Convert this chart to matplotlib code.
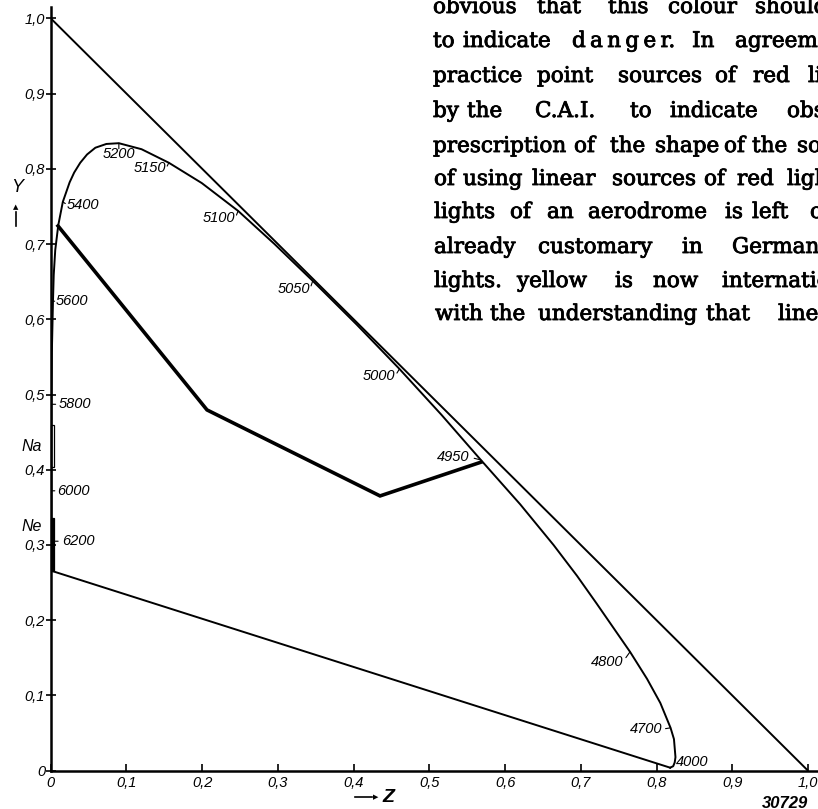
import matplotlib.pyplot as plt
import matplotlib.patheffects as pe
from matplotlib.patches import Rectangle

# Spectrum locus, wavelength in Angstrom with (Z, Y)
locus_wl = [4000, 4200, 4400, 4500, 4600, 4650, 4700, 4750, 4775, 4800, 4825,
            4850, 4875, 4900, 4925, 4950, 4975, 5000, 5025, 5050, 5075, 5100,
            5125, 5150, 5175, 5200, 5225, 5250, 5275, 5300, 5325, 5350, 5400,
            5450, 5500, 5550, 5600, 5700, 5800, 5900, 6000, 6100, 6200, 6400,
            6600, 7000]
locus_z = [0.818, 0.822, 0.824, 0.825, 0.824, 0.823, 0.8185, 0.805, 0.7875, 0.765,
           0.743, 0.721, 0.695, 0.664, 0.620, 0.568, 0.516, 0.4605, 0.404, 0.346,
           0.2955, 0.2475, 0.1995, 0.156, 0.120, 0.090, 0.0735, 0.059, 0.048, 0.039,
           0.031, 0.025, 0.016, 0.010, 0.006, 0.004, 0.003, 0.0015, 0.001, 0.001,
           0.001, 0.001, 0.001, 0.001, 0.001, 0.001]
locus_y = [0.004, 0.006, 0.011, 0.018, 0.030, 0.042, 0.057, 0.090, 0.122, 0.158,
           0.190, 0.222, 0.259, 0.300, 0.354, 0.413, 0.473, 0.534, 0.593, 0.651,
           0.700, 0.744, 0.781, 0.808, 0.826, 0.834, 0.833, 0.828, 0.819, 0.808,
           0.795, 0.782, 0.756, 0.725, 0.692, 0.659, 0.624, 0.555, 0.487, 0.424,
           0.372, 0.334, 0.305, 0.281, 0.270, 0.266]

# labelled wavelengths: text offset (points), alignment
labelled = {
    4000: ((4, 4), 'left'),
    4700: ((-6, -1), 'right'),
    4800: ((-5, -7), 'right'),
    4950: ((-8, 2), 'right'),
    5000: ((-3, -5), 'right'),
    5050: ((-2, -6), 'right'),
    5100: ((-2, -5), 'right'),
    5150: ((-2, -4), 'right'),
    5200: ((0, -8), 'center'),
    5400: ((3, -2), 'left'),
    5600: ((2, 0), 'left'),
    5800: ((5, 0), 'left'),
    6000: ((4, 0), 'left'),
    6200: ((8, 0), 'left'),
}

# diagonal Y + Z = 1
diag_z = [0.0, 1.0]
diag_y = [1.0, 0.0]

# heavy boundary line
bound_z = [0.0097, 0.2064, 0.4349, 0.568]
bound_y = [0.724, 0.4795, 0.3652, 0.410]

# sodium and neon marks on the Y axis
na_range = (0.403, 0.460)
ne_range = (0.266, 0.336)

xticks = [0.0, 0.1, 0.2, 0.3, 0.4, 0.5, 0.6, 0.7, 0.8, 0.9, 1.0]
xticklabels = ['0', '0,1', '0,2', '0,3', '0,4', '0,5', '0,6', '0,7', '0,8', '0,9', '1,0']
yticks = xticks
yticklabels = xticklabels

# page text visible at top right (word, x pixel)
page_lines = [
    [('obvious', 433), ('that', 537), ('this', 608), ('colour', 668), ('should', 755)],
    [('to', 433), ('indicate', 463), ('d\u2009a\u2009n\u2009g\u2009e\u2009r.', 572),
     ('In', 692), ('agreement', 735)],
    [('practice', 433), ('point', 537), ('sources', 618), ('of', 715), ('red', 753),
     ('light', 808)],
    [('by', 433), ('the', 467), ('C.A.I.', 535), ('to', 630), ('indicate', 670),
     ('obstacles', 787)],
    [('prescription', 433), ('of', 574), ('the', 610), ('shape', 655), ('of', 724),
     ('the', 752), ('sources', 797)],
    [('of', 434), ('using', 463), ('linear', 532), ('sources', 612), ('of', 704),
     ('red', 737), ('light', 787)],
    [('lights', 434), ('of', 510), ('an', 547), ('aerodrome', 588), ('is', 725),
     ('left', 752), ('open', 810)],
    [('already', 434), ('customary', 538), ('in', 682), ('Germany', 732)],
    [('lights.', 434), ('yellow', 517), ('is', 615), ('now', 653),
     ('internationally', 722)],
    [('with', 435), ('the', 490), ('understanding', 538), ('that', 706), ('linear', 778)],
]
page_baselines = [13, 47, 82, 117, 152, 185, 218, 253, 287, 320]

W, H = 818, 809
x0, x1 = 50.7, 808.0   # pixel position of Z = 0 and Z = 1
y0, y1 = 770.7, 18.3   # pixel position of Y = 0 and Y = 1

fig = plt.figure(figsize=(W / 100, H / 100), dpi=100)
ax = fig.add_axes([x0 / W, (H - y0) / H, (x1 - x0) * 1.04 / W, (y0 - y1) * 1.015 / H])
ax.set_xlim(0, 1.04)
ax.set_ylim(0, 1.015)

lab_font = dict(family='Liberation Sans', style='italic', size=10.5)

# curves
ax.plot(diag_z, diag_y, color='black', lw=1.4, solid_capstyle='butt')
ax.plot(locus_z, locus_y, color='black', lw=1.4, solid_joinstyle='round')
ax.plot([0.0, locus_z[0]], [locus_y[-1], locus_y[0]], color='black', lw=1.4)
ax.plot(bound_z, bound_y, color='black', lw=2.6, solid_joinstyle='miter')

# Na / Ne bars
ax.add_patch(Rectangle((0, na_range[0]), 0.0045, na_range[1] - na_range[0],
                       fill=False, edgecolor='black', lw=0.9, clip_on=False))
ax.add_patch(Rectangle((0, ne_range[0]), 0.0045, ne_range[1] - ne_range[0],
                       facecolor='black', edgecolor='black', lw=0.9, clip_on=False))
ax.annotate('Na', xy=(0, sum(na_range) / 2), xytext=(-14, 0), textcoords='offset points',
            ha='center', va='center', fontsize=11.5, family='Liberation Sans', style='italic')
ax.annotate('Ne', xy=(0, ne_range[1]), xytext=(-14, -6), textcoords='offset points',
            ha='center', va='center', fontsize=11.5, family='Liberation Sans', style='italic')

# wavelength labels with small tick marks
for wl, (off, ha) in labelled.items():
    i = locus_wl.index(wl)
    pz, py = locus_z[i], locus_y[i]
    ax.annotate(str(wl), xy=(pz, py), xytext=off, textcoords='offset points',
                ha=ha, va='center', **lab_font)
    if wl != 4000:
        tx = off[0] * 0.6
        ty = off[1] * 0.6 if ha != 'center' else -4
        ax.annotate('', xy=(pz, py), xytext=(tx, ty), textcoords='offset points',
                    arrowprops=dict(arrowstyle='-', lw=0.8, color='black',
                                    shrinkA=0, shrinkB=0))

# axes
for side in ['top', 'right']:
    ax.spines[side].set_visible(False)
for side in ['left', 'bottom']:
    ax.spines[side].set_linewidth(1.8)

ax.set_xticks(xticks)
ax.set_xticklabels(xticklabels)
ax.set_yticks(yticks)
ax.set_yticklabels(yticklabels)
ax.tick_params(axis='x', direction='in', length=5, width=1.2, pad=4)
ax.tick_params(axis='y', direction='inout', length=7, width=1.2, pad=0.5)
for lab in ax.get_xticklabels() + ax.get_yticklabels():
    lab.set_fontfamily('Liberation Sans')
    lab.set_fontstyle('italic')
    lab.set_fontsize(10.5)

# axis names
fig.text(17 / W, 1 - 187 / H, 'Y', ha='center', va='center', fontsize=13,
         family='Liberation Sans', style='italic')
fig.add_artist(plt.Line2D([16 / W, 16 / W], [1 - 226 / H, 1 - 212 / H],
                          color='black', lw=1.2))
fig.text(16 / W, 1 - 207 / H, '\u25b2', ha='center', va='center', fontsize=5)
fig.add_artist(plt.Line2D([355 / W, 372 / W], [1 - 797 / H, 1 - 797 / H],
                          color='black', lw=1.2))
fig.text(376 / W, 1 - 797 / H, '\u25b6', ha='center', va='center', fontsize=5)
fig.text(388 / W, 1 - 797 / H, 'Z', ha='center', va='center', fontsize=14,
         family='Liberation Sans', style='italic', weight='bold')
fig.text(785 / W, 1 - 803 / H, '30729', ha='center', va='center', fontsize=12,
         family='Liberation Sans', style='italic', weight='bold')

# page text
heavy = [pe.withStroke(linewidth=0.6, foreground='black')]
for words, base in zip(page_lines, page_baselines):
    for word, xp in words:
        fig.text(xp / W, 1 - base / H, word, ha='left', va='baseline',
                 fontsize=15.5, family='DejaVu Serif', path_effects=heavy)

fig.savefig('out.png', dpi=100)
